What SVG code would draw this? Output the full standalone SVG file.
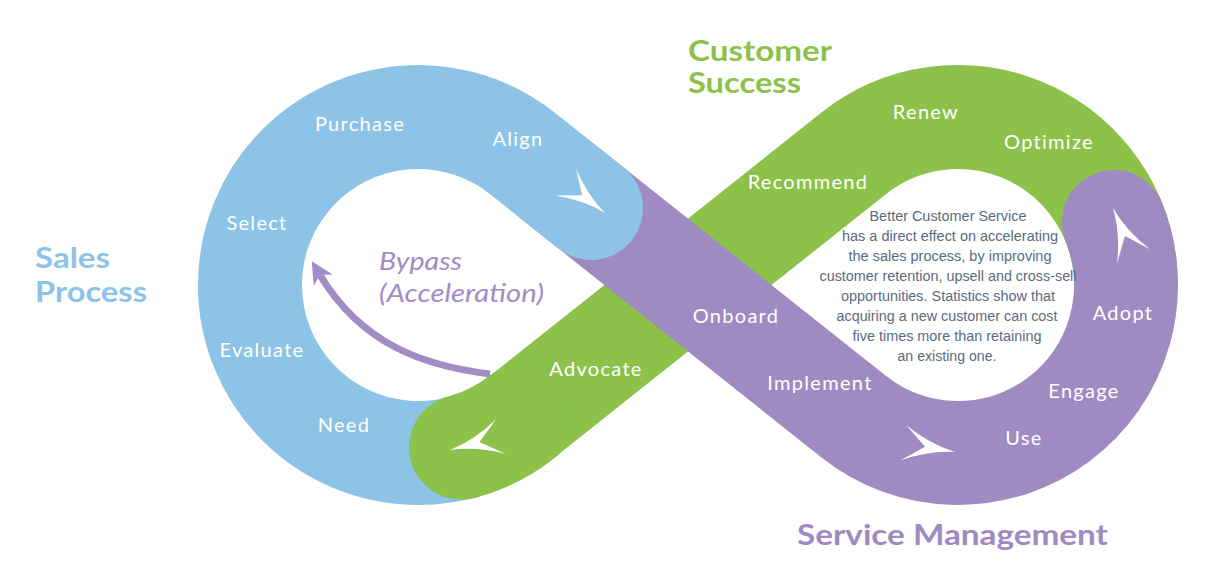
<svg xmlns="http://www.w3.org/2000/svg" width="1209" height="584" viewBox="0 0 1209 584">
<style>
.band{fill:none;stroke-width:104;stroke-linecap:round;stroke-linejoin:round}
.lbl{font-family:Lato,"Noto Sans",sans-serif;font-size:20px;fill:#fff;text-anchor:middle;letter-spacing:1.3px}
.ttl{font-family:Lato,"Noto Sans",sans-serif;font-size:29px;font-weight:700}
.note{font-family:"Liberation Sans",Arial,sans-serif;font-size:15.5px;fill:#5a6b80;text-anchor:middle}
.byp{font-family:Lato,"Noto Sans",sans-serif;font-size:25px;font-style:italic;fill:#a18cc6}
</style>
<defs>
<path id="wa" d="M0,0 Q-25,-3 -50,-17 L-29,0 L-50,17 Q-25,3 0,0 Z" fill="#fff"/>
<marker id="bh" markerUnits="userSpaceOnUse" viewBox="-8 -13 26 26" markerWidth="26" markerHeight="26" refX="0" refY="0" orient="auto">
<path d="M16,0 L-6,-11 L0,0 L-6,11 Z" fill="#a18cc6"/>
</marker>
</defs>
<rect width="1209" height="584" fill="#fff"/>
<g id="connectors">
<path id="green-band" class="band" stroke="#8cc24a" d="M1124.4,261.6 A168,168 0 0 0 853.5,153.5 L522.5,416.5 A168,168 0 0 1 461.5,447.3"/>
<path id="purple-band" class="band" stroke="#a08ac2" d="M553.8,178.4 L853.5,416.5 A168,168 0 0 0 1113.8,222.1"/>
<path id="blue-band" class="band" stroke="#8cc3e6" d="M522.5,416.5 A168,168 0 1 1 522.5,153.5 L591,208"/>
<path id="green-tail" class="band" stroke="#8cc24a" style="stroke-width:105" d="M522.5,416.5 A168,168 0 0 1 461.5,447.3"/>
<use href="#wa" transform="translate(605,213) rotate(38)"/>
<use href="#wa" transform="translate(450,450) rotate(165) scale(1.05)"/>
<use href="#wa" transform="translate(955,452) rotate(10) scale(1.05)"/>
<use href="#wa" transform="translate(1113,208) rotate(-113) scale(1.05)"/>
<path id="bypass-arrow" d="M490,374 C425,366 362,345 320,275" fill="none" stroke="#a18cc6" stroke-width="7" marker-end="url(#bh)"/>
</g>
<g id="sales-process">
<text class="ttl" fill="#8cc3e6" x="35" y="268" textLength="75" lengthAdjust="spacingAndGlyphs">Sales</text>
<text class="ttl" fill="#8cc3e6" x="35" y="302" textLength="112" lengthAdjust="spacingAndGlyphs">Process</text>
<text class="lbl" x="360" y="131">Purchase</text>
<text class="lbl" x="518" y="146">Align</text>
<text class="lbl" x="257" y="230">Select</text>
<text class="lbl" x="262" y="357">Evaluate</text>
<text class="lbl" x="344" y="432">Need</text>
</g>
<g id="customer-success">
<text class="ttl" fill="#8cc24a" x="688" y="61" textLength="144" lengthAdjust="spacingAndGlyphs">Customer</text>
<text class="ttl" fill="#8cc24a" x="688" y="93" textLength="113" lengthAdjust="spacingAndGlyphs">Success</text>
<text class="lbl" x="926" y="119">Renew</text>
<text class="lbl" x="1049" y="149">Optimize</text>
<text class="lbl" x="808" y="189">Recommend</text>
<text class="lbl" x="596" y="376">Advocate</text>
</g>
<g id="service-management">
<text class="ttl" fill="#a08ac2" x="797" y="545" textLength="311" lengthAdjust="spacingAndGlyphs">Service Management</text>
<text class="lbl" x="736" y="323">Onboard</text>
<text class="lbl" x="820" y="390">Implement</text>
<text class="lbl" x="1024" y="445">Use</text>
<text class="lbl" x="1084" y="398">Engage</text>
<text class="lbl" x="1123" y="320">Adopt</text>
</g>
<g id="bypass">
<text class="byp" x="379" y="270" textLength="83" lengthAdjust="spacingAndGlyphs">Bypass</text>
<text class="byp" x="379" y="302" textLength="165" lengthAdjust="spacingAndGlyphs">(Acceleration)</text>
</g>
<g id="note">
<text class="note" x="948" y="221" textLength="157" lengthAdjust="spacingAndGlyphs">Better Customer Service</text>
<text class="note" x="950" y="241" textLength="216" lengthAdjust="spacingAndGlyphs">has a direct effect on accelerating</text>
<text class="note" x="950" y="261" textLength="203" lengthAdjust="spacingAndGlyphs">the sales process, by improving</text>
<text class="note" x="948" y="281" textLength="257" lengthAdjust="spacingAndGlyphs">customer retention, upsell and cross-sell</text>
<text class="note" x="948" y="301" textLength="214" lengthAdjust="spacingAndGlyphs">opportunities. Statistics show that</text>
<text class="note" x="947" y="321" textLength="221" lengthAdjust="spacingAndGlyphs">acquiring a new customer can cost</text>
<text class="note" x="947" y="341" textLength="189" lengthAdjust="spacingAndGlyphs">five times more than retaining</text>
<text class="note" x="947" y="361" textLength="99" lengthAdjust="spacingAndGlyphs">an existing one.</text>
</g>
</svg>
